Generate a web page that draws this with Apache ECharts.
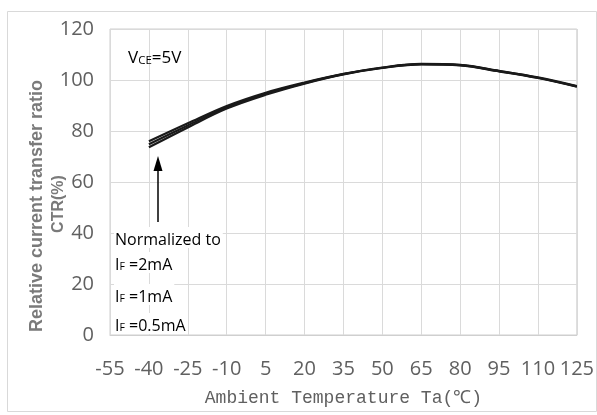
<!DOCTYPE html>
<html>
<head>
<meta charset="utf-8">
<script src="https://cdn.jsdelivr.net/npm/echarts@6/dist/echarts.min.js"></script>
<style>
  html, body { margin: 0; padding: 0; background: #fff; }
  #chart { width: 597px; height: 415px; }
</style>
</head>
<body>
<div id="chart"></div>
<script>
// Temperature axis categories (°C)
const tempTicks = ['-55', '-40', '-25', '-10', '5', '20', '35', '50', '65', '80', '95', '110', '125'];
// Measured temperatures for each curve
const temps = ['-40', '-25', '-10', '5', '20', '35', '50', '65', '80', '95', '110', '125'];
// Relative CTR (%) for each forward current
const ctr2mA  = [76.0, 83.0, 89.8, 95.0, 99.0, 102.4, 104.9, 106.3, 105.9, 103.6, 101.0, 97.6];
const ctr1mA  = [74.8, 82.2, 89.3, 94.6, 98.8, 102.3, 104.8, 106.2, 105.8, 103.5, 100.9, 97.5];
const ctr05mA = [73.6, 81.4, 88.8, 94.2, 98.6, 102.2, 104.7, 106.1, 105.7, 103.4, 100.8, 97.4];
const yTicks = [0, 20, 40, 60, 80, 100, 120];

const gridColor = '#dadada';
const labelColor = '#606060';

function pairs(vals) {
  return temps.map((t, i) => [t, vals[i]]);
}

function curve(name, vals) {
  return {
    name: name,
    type: 'line',
    data: pairs(vals),
    smooth: 0.35,
    showSymbol: false,
    lineStyle: { color: '#1a1a1a', width: 2.2 },
    silent: true,
    z: 3
  };
}

const chart = echarts.init(document.getElementById('chart'), null, { renderer: 'canvas' });

const subRich = {
  a: { fontFamily: 'Open Sans', fontSize: 16, color: '#000', verticalAlign: 'bottom', lineHeight: 21 },
  s: { fontFamily: 'Open Sans', fontSize: 10.5, color: '#000', verticalAlign: 'bottom', lineHeight: 18 },
  v: { fontFamily: 'Open Sans', fontSize: 17, color: '#000', verticalAlign: 'bottom', lineHeight: 22 },
  vs: { fontFamily: 'Open Sans', fontSize: 11.5, color: '#000', verticalAlign: 'bottom', lineHeight: 19 }
};

function boxText(x, y, text) {
  return {
    type: 'text',
    left: x,
    top: y,
    z: 10,
    style: {
      text: text,
      rich: subRich,
      fill: '#000',
      backgroundColor: '#fff',
      padding: [0, 2, 0, 1]
    }
  };
}

chart.setOption({
  animation: false,
  backgroundColor: '#fff',
  grid: { left: 110, right: 19, top: 29, bottom: 80, show: true, borderColor: '#cfcfcf', borderWidth: 1 },
  xAxis: {
    type: 'category',
    data: tempTicks,
    boundaryGap: false,
    axisLine: { show: true, lineStyle: { color: '#cfcfcf' } },
    axisTick: { show: false },
    axisLabel: {
      interval: 0, margin: 24, color: labelColor,
      fontFamily: 'Open Sans', fontSize: 20
    },
    splitLine: { show: true, interval: 0, lineStyle: { color: gridColor, width: 1 } },
    name: 'Ambient Temperature Ta(\u2103)',
    nameLocation: 'middle',
    nameGap: 54,
    nameTextStyle: { color: labelColor, fontFamily: 'Liberation Mono', fontSize: 18 }
  },
  yAxis: {
    type: 'value',
    min: yTicks[0],
    max: yTicks[yTicks.length - 1],
    interval: 20,
    axisLine: { show: false },
    axisTick: { show: false },
    axisLabel: { margin: 16, color: labelColor, fontFamily: 'Open Sans', fontSize: 20 },
    splitLine: { show: true, lineStyle: { color: gridColor, width: 1 } }
  },
  series: [
    curve('IF=2mA', ctr2mA),
    curve('IF=1mA', ctr1mA),
    curve('IF=0.5mA', ctr05mA)
  ],
  graphic: [
    // outer frame
    {
      type: 'rect', z: -1, silent: true,
      shape: { x: 7.5, y: 11.5, width: 589, height: 400 },
      style: { fill: 'none', stroke: '#d9d9d9', lineWidth: 1 }
    },
    // axis title (two lines, rotated)
    {
      type: 'text', x: 37, y: 206, rotation: Math.PI / 2, z: 5,
      style: {
        text: 'Relative current transfer ratio', fill: '#7a7a7a',
        font: 'bold 18px "Liberation Sans"', textAlign: 'center', textVerticalAlign: 'middle'
      }
    },
    {
      type: 'text', x: 59, y: 204, rotation: Math.PI / 2, z: 5,
      style: {
        text: 'CTR(%)', fill: '#7a7a7a',
        font: 'bold 16px "Liberation Sans"', textAlign: 'center', textVerticalAlign: 'middle'
      }
    },
    // condition label
    {
      type: 'text', left: 128, top: 50, z: 10,
      style: { text: '{v|V}{vs|CE}{v|=5V}', rich: subRich }
    },
    // arrow pointing at the curves
    {
      type: 'line', z: 10, silent: true,
      shape: { x1: 158, y1: 168, x2: 158, y2: 222 },
      style: { stroke: '#000', lineWidth: 1.5 }
    },
    {
      type: 'polygon', z: 10, silent: true,
      shape: { points: [[158, 156], [153.5, 171], [162.5, 171]] },
      style: { fill: '#000' }
    },
    boxText(114, 227, '{a|Normalized to}'),
    boxText(114, 252, '{a|I}{s|F}{a| =2mA}'),
    boxText(114, 284, '{a|I}{s|F}{a| =1mA}'),
    boxText(114, 313, '{a|I}{s|F}{a| =0.5mA}')
  ]
});
</script>
</body>
</html>
